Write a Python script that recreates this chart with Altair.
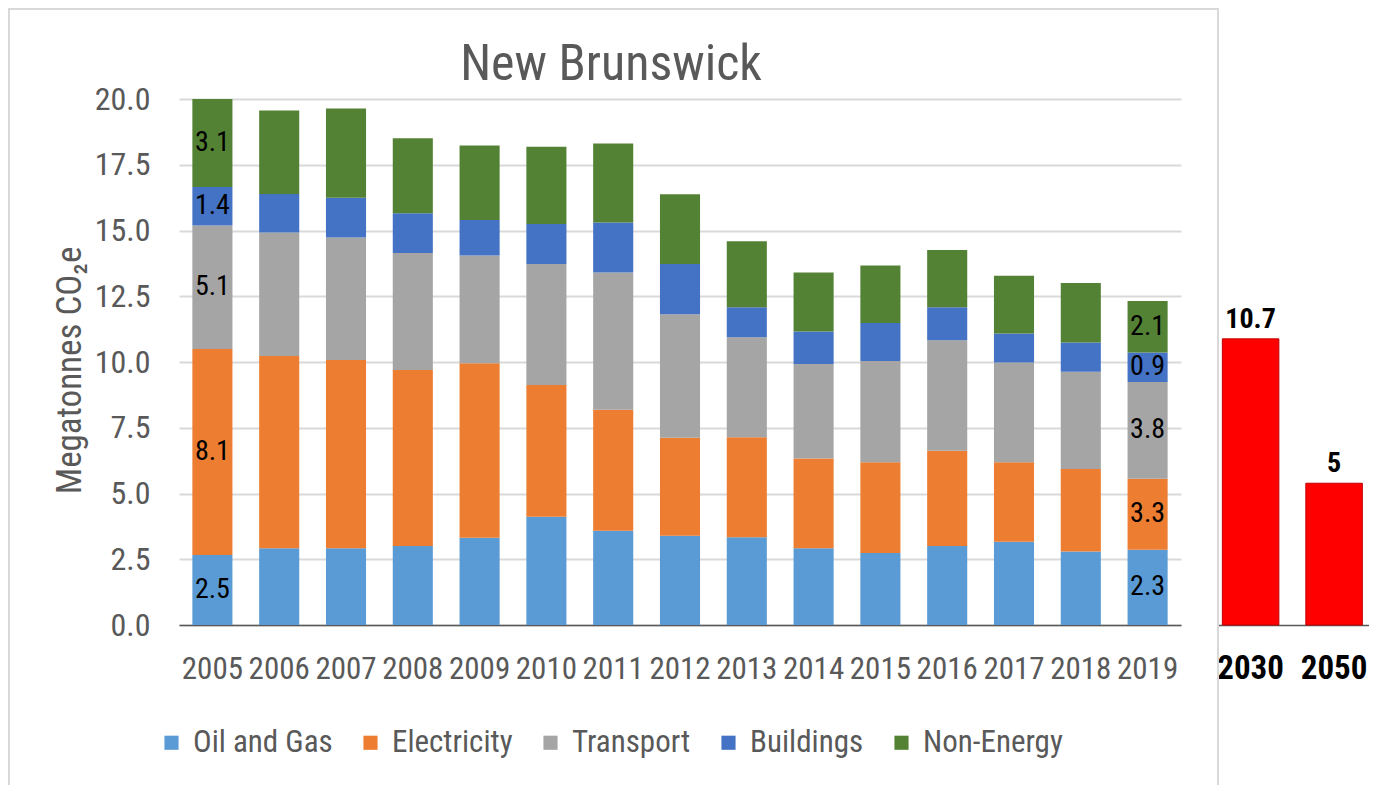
import altair as alt
import pandas as pd

years = [str(y) for y in range(2005, 2020)]
sectors = ["Oil and Gas", "Electricity", "Transport", "Buildings", "Non-Energy"]
colors = ["#5B9BD5", "#ED7D31", "#A5A5A5", "#4472C4", "#548235"]

oil_gas = [2.66, 2.92, 2.92, 3.00, 3.32, 4.12, 3.58, 3.39, 3.34, 2.92, 2.74, 3.00, 3.17, 2.79, 2.86]
electricity = [7.83, 7.31, 7.16, 6.70, 6.63, 5.01, 4.60, 3.73, 3.80, 3.41, 3.45, 3.63, 3.02, 3.14, 2.70]
transport = [4.70, 4.69, 4.65, 4.44, 4.10, 4.60, 5.22, 4.70, 3.80, 3.59, 3.85, 4.20, 3.79, 3.70, 3.68]
buildings = [1.46, 1.47, 1.52, 1.52, 1.35, 1.52, 1.90, 1.91, 1.14, 1.24, 1.44, 1.25, 1.10, 1.11, 1.12]
non_energy = [3.35, 3.17, 3.39, 2.85, 2.83, 2.93, 3.01, 2.65, 2.51, 2.24, 2.19, 2.18, 2.20, 2.26, 1.96]

labels_2005 = ["2.5", "8.1", "5.1", "1.4", "3.1"]
labels_2019 = ["2.3", "3.3", "3.8", "0.9", "2.1"]

target_years = ["2030", "2050"]
target_values = [10.88, 5.39]
target_labels = ["10.7", "5"]

y_ticks = [0, 2.5, 5, 7.5, 10, 12.5, 15, 17.5, 20]

FONT = "Liberation Sans Narrow, Roboto Condensed, Liberation Sans, sans-serif"
GREY = "#595959"

series = [oil_gas, electricity, transport, buildings, non_energy]
rows = []
for si, (name, vals) in enumerate(zip(sectors, series)):
    for yi, yr in enumerate(years):
        lab = ""
        if yr == "2005":
            lab = labels_2005[si]
        elif yr == "2019":
            lab = labels_2019[si]
        rows.append({"year": yr, "sector": name, "order": si, "value": vals[yi], "label": lab})
df = pd.DataFrame(rows)

df_t = pd.DataFrame({"target": target_years, "value": target_values, "label": target_labels})

xscale_main = alt.Scale(type="band", domain=years, paddingInner=0.4, paddingOuter=0.2)
yscale = alt.Scale(domain=[0, 20], nice=False, zero=True)

bars = alt.Chart(df).mark_bar().encode(
    x=alt.X("year:O", scale=xscale_main, sort=years,
            axis=alt.Axis(orient="bottom", title=None, labelAngle=0, ticks=False, tickSize=0,
                          labelPadding=53, labelBaseline="alphabetic", labelFontSize=31,
                          labelFont=FONT, labelColor=GREY, domainColor="#595959",
                          domainWidth=1.5, grid=False)),
    y=alt.Y("value:Q", stack="zero", scale=yscale,
            axis=alt.Axis(values=y_ticks, format=".1f", title="Megatonnes CO₂e",
                          orient="left", domain=False, ticks=False, tickSize=0,
                          labelPadding=29, labelFontSize=32, labelFont=FONT,
                          labelColor=GREY, gridColor="#D9D9D9", gridWidth=2,
                          titleFont=FONT, titleFontSize=35, titleColor=GREY,
                          titleFontWeight="normal", titleX=-99, titleY=271,
                          titleAlign="center", titleBaseline="alphabetic")),
    color=alt.Color("sector:N", scale=alt.Scale(domain=sectors, range=colors),
                    legend=alt.Legend(orient="none", legendX=-23, legendY=628,
                                      direction="horizontal", title=None,
                                      symbolType="square", symbolSize=200,
                                      symbolStrokeWidth=0, labelFont=FONT,
                                      labelFontSize=31, labelColor=GREY,
                                      columnPadding=22, labelOffset=6)),
    order=alt.Order("order:Q", sort="ascending"),
)

texts = alt.Chart(df).transform_stack(
    stack="value", groupby=["year"], as_=["v0", "v1"],
    sort=[alt.SortField("order", "ascending")]
).transform_calculate(
    mid="(datum.v0 + datum.v1) / 2"
).transform_filter(
    "datum.label != ''"
).mark_text(font=FONT, fontSize=28, color="black", baseline="middle", align="center").encode(
    x=alt.X("year:O", scale=xscale_main, sort=years, axis=None),
    y=alt.Y("mid:Q", scale=yscale, axis=None),
    text="label:N",
)

xscale_t = alt.Scale(type="band", domain=target_years, range=[1039, 1204], paddingInner=0.323,
                     paddingOuter=0.1497, align=0.174)

tbars = alt.Chart(df_t).mark_bar(color="#FF0000", stroke="#C00000", strokeWidth=1).encode(
    x=alt.X("target:O", scale=xscale_t,
            axis=alt.Axis(orient="bottom", title=None, labelAngle=0, ticks=False, tickSize=0,
                          labelPadding=53, labelBaseline="alphabetic", labelFontSize=33,
                          labelFont=FONT, labelFontWeight="bold", labelColor="black",
                          domainColor="#595959", domainWidth=1.5, grid=False)),
    y=alt.Y("value:Q", scale=yscale, axis=None),
)

ttexts = alt.Chart(df_t).mark_text(font=FONT, fontSize=28, fontWeight="bold", color="black",
                                   baseline="alphabetic", align="center", dy=-11).encode(
    x=alt.X("target:O", scale=xscale_t, axis=None),
    y=alt.Y("value:Q", scale=yscale, axis=None),
    text="label:N",
)

frame = alt.Chart(pd.DataFrame({"k": [0]})).mark_rect(
    filled=False, stroke="#D9D9D9", strokeWidth=2
).encode(
    x=alt.value(-170), x2=alt.value(1039), y=alt.value(-90), y2=alt.value(691)
)

chart = alt.layer(bars, texts, tbars, ttexts, frame).resolve_scale(
    x="independent"
).resolve_axis(
    x="independent", y="independent"
).properties(
    width=1002, height=526,
    title=alt.Title("New Brunswick", font=FONT, fontSize=50, fontWeight="normal",
                    color=GREY, anchor="middle", frame="group", dx=-69, offset=-122,
                    baseline="alphabetic"),
    autosize=alt.AutoSizeParams(type="none"),
    padding={"left": 171, "top": 91, "right": 188, "bottom": 160},
    background="white",
).configure_view(stroke=None)

chart.save("out.html", embed_options={"renderer": "svg", "actions": False})
